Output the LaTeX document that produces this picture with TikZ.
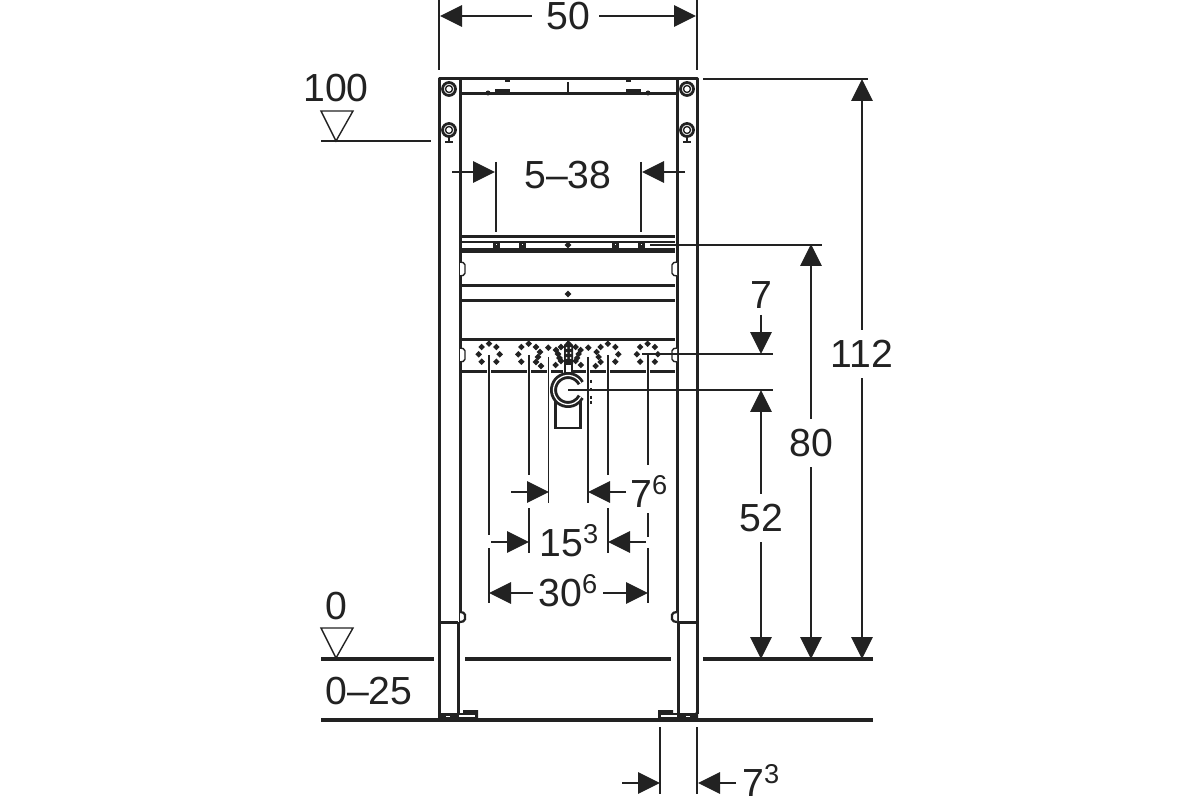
\documentclass[tikz,border=0pt]{standalone}
\usepackage{fontspec}
\setmainfont{Liberation Sans}
\usetikzlibrary{arrows.meta}
\definecolor{inkdark}{HTML}{222222}
\newcommand{\dimsup}[1]{\raisebox{7.4pt}{\fontsize{15.5}{15.5}\selectfont #1}}
\tikzset{
  frameline/.style={line width=.06cm,inkdark},
  partline/.style={line width=.045cm,inkdark},
  thinline/.style={line width=.028cm,inkdark},
  dimarrow/.style={thinline,-{Triangle[length=.44cm,width=.43cm]},shorten >=0pt},
  dimtext/.style={inner sep=0pt,text=inkdark,font=\fontsize{22.3}{22.3}\selectfont},
  holedot/.style={draw=inkdark,line width=.05cm,fill=inkdark!35,circle,inner sep=0pt,minimum size=.06cm},
  squarehole/.style={draw=inkdark,line width=.06cm,fill=white,inner sep=0pt,minimum size=.08cm},
}
\begin{document}
\begin{tikzpicture}[x=.02cm,y=-.02cm]
    \useasboundingbox[fill=white] (0,0) rectangle (1200,800);

    % posts and legs
    \draw[frameline,line join=round] (458,622) -- (439,622) -- (439,79) -- (697,79) -- (697,622) -- (678,622);
    \draw[frameline] (460,79) -- (460,622);
    \draw[frameline] (677,79) -- (677,622);
    \draw[frameline] (460,94) -- (677,94);
    \draw[frameline] (439,622) -- (439,714);
    \draw[frameline] (458,622) -- (458,714);
    \draw[frameline] (678,622) -- (678,714);
    \draw[frameline] (697,622) -- (697,714);
    \foreach \x/\s in {460/1,677/-1}{
      \draw[partline,fill=white,rounded corners=1pt] (\x,612) -- ++(\s*5,1) -- ++(0,8) -- ++(\s*-5,1);
    }
    % feet
    \foreach \x/\s in {438/1,698/-1}{
      \fill[inkdark] (\x,711) -- ++(\s*3,2) -- ++(\s*22,0) -- ++(0,-3) -- ++(\s*15,0) -- ++(0,10) -- ++(\s*-40,0) -- cycle;
      \fill[white] (\x+\s*21,715) rectangle ++(\s*16,2);
      \fill[white] (\x+\s*8,715.5) rectangle ++(\s*4,1.5);
    }

    % top crossbar parts
    \draw[thinline] (568,82) -- (568,92);
    \foreach \x/\s in {568/1,568/-1}{
      \fill[inkdark] (\x+\s*-73,89.5) rectangle ++(\s*15,4.5);
      \fill[inkdark] (\x+\s*-80,93) circle [radius=.05cm];
      \draw[partline] (\x+\s*-63,81) -- ++(\s*5,0);
    }
    % rings on the posts
    \foreach \x in {449,687}{
      \foreach \y in {89,130}{
        \draw[line width=.055cm,inkdark] (\x,\y) circle [radius=.13cm];
        \draw[thinline] (\x,\y) circle [radius=.07cm];
      }
      \draw[thinline] (\x,137) -- (\x,141);
      \draw[partline] (\x-4,142) -- (\x+4,142);
    }

    % rail with the squares
    \foreach \y/\w in {237/.06,242/.03,249/.03,252/.06}{
      \draw[inkdark,line width=\w cm] (461,\y) -- (675,\y);
    }
    \foreach \x in {496,522,615,641}{
      \node[squarehole] (hole\x) at (\x,245) {};
    }
    \node[holedot] (holemid) at (568,245) {};

    % plates
    \draw[frameline] (461,286) -- (675,286);
    \draw[frameline] (461,301) -- (675,301);
    \draw[frameline] (461,340) -- (675,340);
    \node[holedot] (holeplate) at (568,294) {};
    \foreach \y in {269,355}{
      \draw[thinline,fill=white,rounded corners=1pt] (460,\y-7) -- ++(5,1) -- ++(0,12) -- ++(-5,1);
      \draw[thinline,fill=white,rounded corners=1pt] (677,\y-7) -- ++(-5,1) -- ++(0,12) -- ++(5,1);
    }
    \foreach \a/\b in {461/487,491/527,531/547,551/563,573/586,590/606,610/646,650/675}{
      \draw[frameline] (\a,372) -- (\b,372);
    }

    % hole groups
    \foreach \x/\y in {481.7/347,489/343.7,496.4/347,478.7/354.3,499.7/354.3,481.7/361.7,496.4/361.7,
      521.3/347,528.7/343.7,518.3/354.3,521.3/361.7,536/347,540/352,538/357,536/362,541/366,
      548.3/347.7,561/347,556/350,558/354,559.5/358,561/361,555.7/365}{
      \node[holedot] at (\x,\y) {};
      \node[holedot] at (1136.6-\x,\y) {};
    }
    % drain and clamp
    \fill[inkdark] (568.3,340) -- (573,345) -- (573,364) -- (564,364) -- (564,345) -- cycle;
    \foreach \y in {348,353,358}{
      \fill[white] (566.5,\y) circle [radius=.02cm];
      \fill[white] (570.5,\y) circle [radius=.02cm];
    }
    \draw[partline] (565,364) rectangle (572,373);
    \draw[frameline] (555,400) -- (555,428) -- (580,428) -- (580,400);
    \fill[white] (568,390) circle [radius=.26cm];
    \draw[line width=.14cm,inkdark] (568,390) ++(-28:14.5) arc [start angle=28,end angle=332,radius=.29cm];
    \draw[line width=.025cm,white] (568,390) ++(-28:14.5) arc [start angle=28,end angle=332,radius=.29cm];
    \foreach \y in {380,388,396,401}{
      \draw[thinline] (591,\y) -- (591,\y+3);
    }

    % level marks
    \node[dimtext] (lab100) at (336,88) {100};
    \node[dimtext] (lab0) at (336,606) {0};
    \node[dimtext,anchor=west] (lab025) at (325,691) {0--25};
    \foreach \y in {141,658}{
      \draw[thinline] (321,\y-30) -- (353,\y-30) -- (336,\y) -- cycle;
    }
    \draw[thinline] (321,141) -- (431,141);
    \draw[line width=.07cm,inkdark] (321,659) -- (434,659);
    \draw[line width=.07cm,inkdark] (465,659) -- (671,659);
    \draw[line width=.07cm,inkdark] (703,659) -- (873,659);
    \draw[line width=.07cm,inkdark] (321,720) -- (873,720);

    % extension lines
    \foreach \x/\a/\b in {439/0/70,697/0/70,
      496/162/232,641/162/232,
      489/355/535,489/548/603,
      529/355/475,529/508/553,
      548.5/357/503,588/357/503,
      608/355/475,608/508/553,
      648/355/465,648/513/537,648/548/603,
      660/727/794,697/727/794}{
      \draw[thinline] (\x,\a) -- (\x,\b);
    }
    \foreach \y/\a/\b in {79/703/868,245/650/822,354/642/773,390/568/773}{
      \draw[thinline] (\a,\y) -- (\b,\y);
    }

    % dimension labels
    \node[dimtext] (lab50) at (568,16) {50};
    \node[dimtext] (lab538) at (568,175) {5--38};
    \node[dimtext] (lab112) at (862,354) {112};
    \node[dimtext] (lab80) at (811,443) {80};
    \node[dimtext] (lab52) at (761,518) {52};
    \node[dimtext] (lab7) at (761,295) {7};
    \node[dimtext,anchor=base west] (lab76) at (630,507) {7\dimsup{6}};
    \node[dimtext,anchor=base] (lab153) at (569,556) {15\dimsup{3}};
    \node[dimtext,anchor=base] (lab306) at (568,606) {30\dimsup{6}};
    \node[dimtext,anchor=base west] (lab73) at (742,796) {7\dimsup{3}};

    % dimension arrows
    \coordinate (tipfiftyl) at (440,16);
    \coordinate (tipfiftyr) at (696,16);
    \draw[dimarrow] ([xshift=-.28cm]lab50.west) -- (tipfiftyl);
    \draw[dimarrow] ([xshift=.18cm]lab50.east) -- (tipfiftyr);
    \coordinate (tiprangel) at (495,172);
    \coordinate (tailrangel) at (452,172);
    \coordinate (tipranger) at (642,172);
    \coordinate (tailranger) at (685,172);
    \draw[dimarrow] (tailrangel) -- (tiprangel);
    \draw[dimarrow] (tailranger) -- (tipranger);
    \coordinate (tipheightt) at (862,79);
    \coordinate (tipheightb) at (862,659);
    \draw[dimarrow] ([yshift=.2cm]lab112.north) -- (tipheightt);
    \draw[dimarrow] ([yshift=-.2cm]lab112.south) -- (tipheightb);
    \coordinate (tiprailt) at (811,244);
    \coordinate (tiprailb) at (811,659);
    \draw[dimarrow] ([yshift=.2cm]lab80.north) -- (tiprailt);
    \draw[dimarrow] ([yshift=-.2cm]lab80.south) -- (tiprailb);
    \coordinate (tipdraint) at (761,390);
    \coordinate (tipdrainb) at (761,659);
    \draw[dimarrow] ([yshift=.2cm]lab52.north) -- (tipdraint);
    \draw[dimarrow] ([yshift=-.2cm]lab52.south) -- (tipdrainb);
    \coordinate (tipseven) at (761,354);
    \draw[dimarrow] ([yshift=-.12cm]lab7.south) -- (tipseven);
    \coordinate (taila) at (511,492);
    \coordinate (tipa) at (549,492);
    \coordinate (tailb) at (626,492);
    \coordinate (tipb) at (588,492);
    \draw[dimarrow] (taila) -- (tipa);
    \draw[dimarrow] (tailb) -- (tipb);
    \coordinate (tailc) at (491,542);
    \coordinate (tipc) at (529,542);
    \coordinate (taild) at (646,542);
    \coordinate (tipd) at (608,542);
    \draw[dimarrow] (tailc) -- (tipc);
    \draw[dimarrow] (taild) -- (tipd);
    \coordinate (tipe) at (489,593);
    \coordinate (tipf) at (648,593);
    \coordinate (taile) at (533,593);
    \coordinate (tailf) at (603,593);
    \draw[dimarrow] (taile) -- (tipe);
    \draw[dimarrow] (tailf) -- (tipf);
    \coordinate (tailg) at (622,783);
    \coordinate (tipg) at (660,783);
    \coordinate (tailh) at (736,783);
    \coordinate (tiph) at (698,783);
    \draw[dimarrow] (tailg) -- (tipg);
    \draw[dimarrow] (tailh) -- (tiph);
\end{tikzpicture}
\end{document}
